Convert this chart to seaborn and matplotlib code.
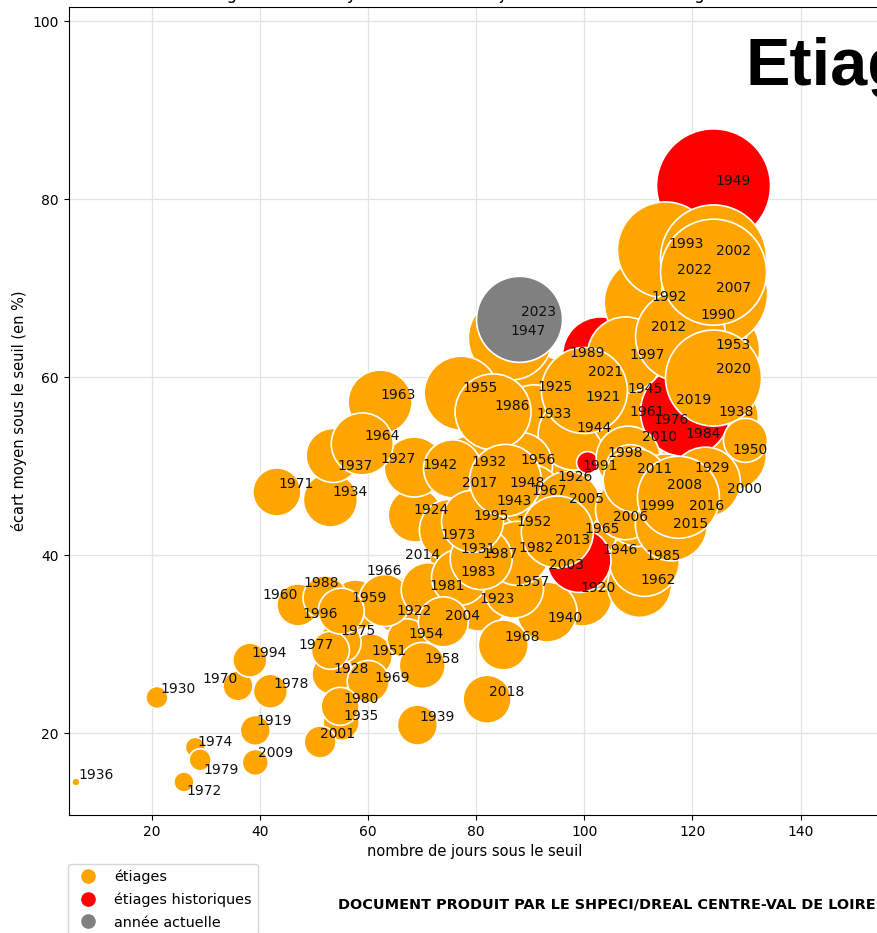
import matplotlib
matplotlib.use("Agg")
import matplotlib.pyplot as plt
import seaborn as sns
import pandas as pd
from matplotlib.lines import Line2D

# ---------------- data ----------------
years = [1919, 1920, 1921, 1922, 1923, 1924, 1925, 1926, 1927, 1928, 1929, 1930,
         1931, 1932, 1933, 1934, 1935, 1936, 1937, 1938, 1939, 1940, 1942, 1943,
         1944, 1945, 1946, 1947, 1948, 1949, 1950, 1951, 1952, 1953, 1954, 1955,
         1956, 1957, 1958, 1959, 1960, 1961, 1962, 1963, 1964, 1965, 1966, 1967,
         1968, 1969, 1970, 1971, 1972, 1973, 1974, 1975, 1976, 1977, 1978, 1979,
         1980, 1981, 1982, 1983, 1984, 1985, 1986, 1987, 1988, 1989, 1990, 1991,
         1992, 1993, 1994, 1995, 1996, 1997, 1998, 1999, 2000, 2001, 2002, 2003,
         2004, 2005, 2006, 2007, 2008, 2009, 2010, 2011, 2012, 2013, 2014, 2015,
         2016, 2017, 2018, 2019, 2020, 2021, 2022, 2023]

jours = [39.1, 99.6, 101.1, 65.9, 80.4, 68.7, 91.1, 95.6, 68.5, 53.3, 120.2, 20.9,
         76.9, 78.9, 90.7, 53.0, 55.0, 5.9, 53.5, 124.4, 69.1, 93.1, 75.6, 83.3,
         98.1, 107.8, 103.1, 86.3, 86.3, 123.9, 127.2, 60.4, 87.2, 124.1, 67.2, 77.2,
         88.0, 86.9, 70.0, 57.6, 47.0, 108.1, 110.2, 62.2, 58.9, 99.8, 63.1, 90.0,
         85.0, 60.0, 35.9, 43.1, 25.9, 75.2, 28.0, 54.8, 118.7, 53.0, 41.9, 28.9,
         54.8, 71.1, 87.6, 76.9, 129.8, 111.1, 83.1, 80.9, 52.0, 103.0, 121.3, 100.6,
         112.0, 115.0, 38.1, 79.3, 55.0, 107.6, 108.1, 110.0, 122.4, 51.1, 123.9, 99.0,
         73.9, 96.9, 107.6, 124.1, 115.0, 39.1, 108.5, 109.4, 117.8, 95.0, 84.1, 116.1,
         117.4, 85.4, 82.0, 123.9, 123.9, 100.0, 123.9, 88.0]

ecart = [20.3, 35.4, 57.4, 34.3, 34.5, 44.5, 58.3, 48.1, 49.9, 26.6, 49.2, 24.0,
         40.1, 49.8, 55.2, 46.2, 21.2, 14.5, 51.2, 55.4, 20.9, 33.6, 49.7, 45.5,
         53.6, 58.0, 39.9, 64.4, 47.5, 81.5, 51.2, 28.7, 43.1, 63.0, 30.6, 58.2,
         50.1, 36.3, 27.6, 34.4, 34.4, 55.5, 36.6, 57.2, 52.5, 42.4, 34.9, 46.6,
         29.9, 25.8, 25.3, 47.1, 14.5, 42.8, 18.4, 30.2, 56.1, 29.3, 24.7, 17.0,
         23.0, 36.1, 40.2, 37.5, 52.9, 39.3, 56.1, 39.6, 35.2, 62.5, 66.4, 50.4,
         68.4, 74.3, 28.2, 43.8, 33.7, 62.5, 50.9, 44.9, 48.2, 19.0, 73.4, 39.4,
         32.5, 45.7, 45.1, 69.4, 47.2, 16.7, 49.6, 48.4, 64.6, 42.6, 47.6, 43.4,
         46.5, 48.4, 23.8, 58.5, 59.9, 58.5, 71.8, 66.5]

volume = [225, 900, 1600, 784, 729, 729, 1444, 900, 900, 400, 1444, 121,
          900, 1024, 1225, 729, 324, 16, 729, 1764, 400, 900, 841, 900,
          1296, 1444, 1089, 1764, 1089, 3249, 1225, 484, 1089, 2025, 400, 1369,
          1089, 900, 529, 625, 441, 1296, 1024, 1024, 961, 1089, 676, 1024,
          625, 441, 225, 576, 100, 961, 100, 441, 2025, 361, 289, 121,
          361, 729, 1024, 784, 484, 1225, 1444, 961, 484, 1444, 2500, 121,
          2025, 2304, 289, 961, 529, 1444, 1024, 1225, 1225, 256, 2809, 1024,
          625, 1089, 900, 2809, 1369, 169, 625, 1024, 2025, 1296, 400, 1296,
          1681, 1296, 576, 900, 2304, 1849, 2809, 1849]

historiques = [1949, 1976, 1989, 1991, 2003]
annee_actuelle = 2023
categories = ["étiages", "étiages historiques", "année actuelle"]

# label positions (data units) as placed in the reference
label_pos = [(42.6, 21.5), (102.6, 36.5), (103.5, 57.9), (68.5, 33.9), (83.9, 35.2),
             (71.7, 45.2), (94.6, 59.1), (98.3, 48.9), (65.6, 51.0), (56.9, 27.4),
             (123.7, 50.0), (24.8, 25.1), (80.4, 40.9), (82.4, 50.6), (94.3, 56.0),
             (56.7, 47.3), (58.7, 22.1), (9.6, 15.5), (57.6, 50.2), (128.0, 56.2),
             (72.8, 22.0), (96.5, 33.1), (73.3, 50.3), (86.9, 46.3), (101.7, 54.4),
             (111.3, 58.8), (106.7, 40.7), (89.6, 65.4), (89.4, 48.3), (127.6, 82.2),
             (130.7, 52.0), (63.9, 29.4), (90.7, 43.9), (127.6, 63.8), (70.7, 31.3),
             (80.7, 59.0), (91.5, 50.9), (90.4, 37.1), (73.7, 28.5), (60.2, 35.4),
             (43.7, 35.7), (111.7, 56.3), (113.7, 37.4), (65.6, 58.2), (62.6, 53.5),
             (103.3, 43.1), (63.0, 38.4), (93.5, 47.4), (88.5, 31.0), (64.4, 26.4),
             (32.6, 26.3), (46.7, 48.2), (29.6, 13.7), (76.7, 42.4), (31.7, 19.2),
             (58.1, 31.6), (116.1, 55.4), (50.4, 30.1), (45.7, 25.7), (32.8, 16.0),
             (58.7, 24.0), (74.6, 36.7), (91.1, 41.0), (80.4, 38.3), (122.0, 53.8),
             (114.6, 40.1), (86.7, 56.9), (84.4, 40.3), (51.3, 37.0), (100.6, 62.9),
             (124.8, 67.2), (103.0, 50.2), (115.6, 69.2), (118.9, 75.1), (41.7, 29.2),
             (82.8, 44.6), (51.1, 33.6), (111.7, 62.7), (107.6, 51.7), (113.5, 45.7),
             (129.6, 47.6), (54.4, 20.1), (127.6, 74.3), (96.7, 39.1), (77.4, 33.3),
             (100.4, 46.5), (108.5, 44.4), (127.6, 70.2), (118.5, 48.0), (42.8, 17.9),
             (113.9, 53.4), (113.0, 49.8), (115.6, 65.8), (97.8, 41.9), (70.0, 40.2),
             (119.6, 43.7), (122.6, 45.7), (80.6, 48.3), (85.6, 24.8), (120.2, 57.6),
             (127.6, 61.1), (103.9, 60.8), (120.4, 72.2), (91.5, 67.5)]

# ---------------- figure ----------------
W, H = 877, 933
fig = plt.figure(figsize=(W / 100, H / 100), dpi=100)
ax = fig.add_axes([68.5 / W, (H - 815) / H, (880 - 68.5) / W, (815 - 7.3) / H])

def categorie(y):
    if y == annee_actuelle:
        return categories[2]
    if y in historiques:
        return categories[1]
    return categories[0]

df = pd.DataFrame({"annee": years, "jours": jours, "ecart": ecart, "volume": volume})
df["type"] = [categorie(y) for y in years]

palette = {categories[0]: "orange", categories[1]: "red", categories[2]: "gray"}
vmin, vmax = min(volume), max(volume)
k = (2 * 0.72) ** 2  # px radius^2 -> points^2 area

sns.scatterplot(data=df, x="jours", y="ecart", hue="type", size="volume",
                sizes=(k * vmin, k * vmax), size_norm=(vmin, vmax),
                palette=palette, edgecolor="white", linewidth=1.2,
                alpha=1, legend=False, ax=ax, zorder=2)

for yr, (lx, ly) in zip(years, label_pos):
    ax.text(lx, ly, str(yr), ha="center", va="center_baseline", fontsize=10,
            color="#111111", zorder=5)

ax.set_xlim(4.54, 154.7)
ax.set_ylim(10.79, 101.57)
ax.set_xticks([20, 40, 60, 80, 100, 120, 140])
ax.set_yticks([20, 40, 60, 80, 100])
ax.tick_params(labelsize=10)
ax.grid(True, color="#e3e3e3", linewidth=0.9)
ax.set_axisbelow(True)
ax.set_xlabel("nombre de jours sous le seuil", fontsize=10.5)
ax.set_ylabel("écart moyen sous le seuil (en %)", fontsize=10.5)
ax.set_title("Étiages : écart moyen et nombre de jours sous le seuil de vigilance",
             fontsize=12)

handles = [Line2D([0], [0], marker="o", linestyle="", markersize=9.5,
                  markerfacecolor=palette[c], markeredgecolor=palette[c])
           for c in categories]
fig.legend(handles, categories, loc="upper left",
           bbox_to_anchor=(68 / W, 1 - 864 / H), borderaxespad=0, fontsize=10.4,
           labelspacing=0.58, frameon=True)

fig.text(338 / W, 1 - 904 / H,
         "DOCUMENT PRODUIT PAR LE SHPECI/DREAL CENTRE-VAL DE LOIRE",
         fontsize=10.4, fontweight="bold", va="center", ha="left")

fig.text(745 / W, 1 - 85 / H, "Etiages", fontsize=48, fontweight="bold",
         family=["Liberation Sans", "DejaVu Sans"], va="baseline", ha="left")

fig.savefig("out.png", dpi=100)
